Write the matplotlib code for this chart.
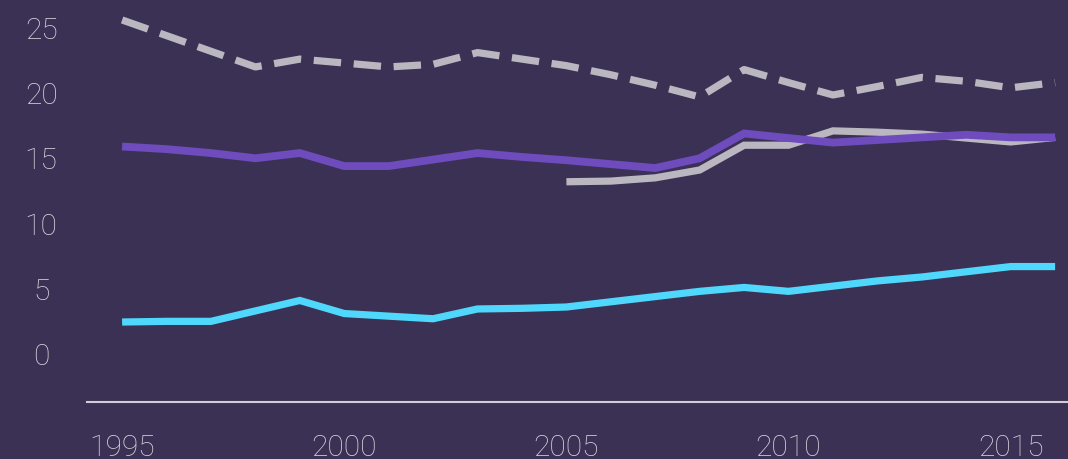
import matplotlib
matplotlib.use("Agg")
import matplotlib.pyplot as plt

# data
years = list(range(1995, 2017))
cyan_vals = [2.45, 2.5, 2.5, 3.3, 4.1, 3.1, 2.9, 2.7, 3.45, 3.5, 3.6, 4.0, 4.4, 4.8, 5.1, 4.8, 5.2, 5.6, 5.9, 6.3, 6.7, 6.7]
purple_vals = [15.9, 15.7, 15.4, 15.0, 15.4, 14.4, 14.4, 14.9, 15.4, 15.1, 14.85, 14.55, 14.25, 15.0, 16.9, 16.55, 16.2, 16.4, 16.6, 16.8, 16.6, 16.6]
dashed_vals = [25.6, 24.4, 23.2, 22.0, 22.6, 22.3, 22.0, 22.2, 23.1, 22.6, 22.1, 21.4, 20.6, 19.7, 21.8, 20.8, 19.85, 20.5, 21.2, 20.9, 20.4, 20.8]
gray_years = list(range(2005, 2017))
gray_vals = [13.2, 13.25, 13.5, 14.1, 16.0, 16.0, 17.1, 17.0, 16.85, 16.55, 16.25, 16.6]

xticks = [1995, 2000, 2005, 2010, 2015]
yticks = [0, 5, 10, 15, 20, 25]

bg = "#3b3154"
txt = "#d8d5de"

plt.rcParams['font.family'] = ['Roboto', 'DejaVu Sans']

fig = plt.figure(figsize=(10.68, 4.59), dpi=100, facecolor=bg)
ax = fig.add_axes([87 / 1068, 57 / 459, 981 / 1068, 402 / 459])
ax.set_facecolor(bg)

ax.plot(gray_years, gray_vals, color="#bab7c1", lw=5.2, solid_capstyle="butt", solid_joinstyle="miter")
ax.plot(years, purple_vals, color="#6f4cbe", lw=5.6, solid_capstyle="butt", solid_joinstyle="miter")
ax.plot(years, cyan_vals, color="#4fd8fc", lw=5.2, solid_capstyle="butt", solid_joinstyle="miter")
ln, = ax.plot(years, dashed_vals, color="#bab7c1", lw=5.2, dash_capstyle="butt")
ln.set_dashes((3.8, 1.75))

ax.set_xlim(1994.21, 2016.29)
ax.set_ylim(-3.68, 27.13)

for s in ["top", "right", "left"]:
    ax.spines[s].set_visible(False)
ax.spines["bottom"].set_color("#d0cdd6")
ax.spines["bottom"].set_linewidth(1.5)

ax.set_xticks(xticks)
ax.set_xticklabels([str(x) for x in xticks])
ax.set_yticks(yticks)
ax.set_yticklabels([str(y) for y in yticks])
ax.tick_params(axis="both", length=0, labelsize=21.5, labelcolor=txt)
ax.tick_params(axis="x", pad=23)
ax.tick_params(axis="y", pad=33)
for lab in ax.get_yticklabels():
    lab.set_horizontalalignment("center")
for lab in ax.get_xticklabels() + ax.get_yticklabels():
    lab.set_fontweight("light")

fig.savefig("out.png", dpi=100, facecolor=bg)
